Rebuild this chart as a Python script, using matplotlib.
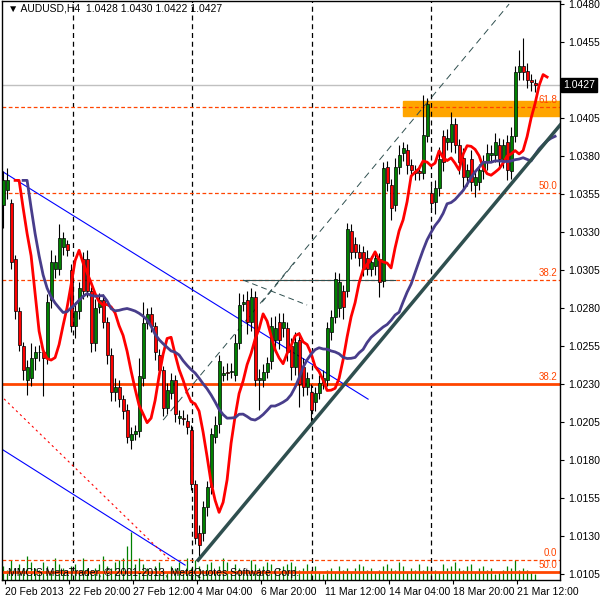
import matplotlib
matplotlib.use("Agg")
import matplotlib.pyplot as plt
import numpy as np
import pandas as pd

plt.rcParams['font.family'] = ['Liberation Sans', 'DejaVu Sans']

# ---- data (prices in pips: 10427 -> 1.0427) ----
opens_p = [10348,10358,10349,10312,10278,10255,10233,10234,10247,10251,
 10251,10247,10285,10306,10306,10320,10322,10305,10268,10278,
 10312,10312,10291,10257,10281,10285,10271,10249,10225,10228,
 10220,10213,10193,10197,10199,10234,10270,10276,10268,10249,
 10239,10214,10224,10233,10208,10208,10206,10200,10164,10132,
 10132,10149,10162,10195,10204,10236,10238,10238,10236,10257,
 10283,10285,10271,10287,10233,10233,10238,10245,10259,10271,
 10267,10267,10255,10241,10259,10241,10228,10225,10218,10224,
 10231,10233,10264,10274,10280,10291,10291,10331,10322,10317,
 10317,10313,10306,10308,10312,10298,10373,10361,10348,10373,
 10382,10384,10374,10370,10370,10369,10393,10356,10350,10359,
 10393,10389,10389,10401,10387,10379,10366,10378,10361,10363,
 10370,10376,10381,10381,10387,10378,10389,10370,10393,10435,
 10439,10436,10430,10428]
closes_p = [10364,10364,10310,10278,10256,10239,10241,10247,10251,10251,
 10247,10284,10310,10310,10326,10326,10318,10268,10278,10293,
 10291,10291,10257,10280,10285,10271,10249,10225,10228,10220,
 10212,10195,10197,10199,10235,10270,10276,10268,10251,10239,
 10214,10226,10233,10210,10209,10207,10202,10164,10129,10124,
 10149,10162,10197,10203,10245,10237,10237,10238,10257,10282,
 10284,10271,10287,10233,10234,10238,10244,10268,10267,10259,
 10271,10251,10241,10258,10230,10228,10234,10213,10224,10231,
 10234,10267,10274,10299,10297,10281,10332,10317,10317,10313,
 10306,10306,10310,10313,10297,10372,10362,10346,10373,10381,
 10385,10374,10371,10369,10369,10394,10414,10349,10359,10378,
 10376,10392,10401,10387,10376,10366,10371,10363,10366,10371,
 10376,10382,10382,10389,10378,10387,10371,10393,10435,10439,
 10435,10430,10429,10427]
upper_wick = [6,8,3,3,3,3,5,10,4,5, 3,5,8,5,9,4,3,4,6,4, 5,6,3,6,5,4,3,5,6,5,
 3,4,5,4,12,14,4,5,3,4, 3,5,4,3,4,5,4,3,3,5, 4,4,4,6,4,5,6,6,6,8,
 5,6,6,4,6,5,4,6,8,6, 6,4,5,6,5,6,4,5,4,5, 5,4,5,5,6,4,4,4,5,5,
 4,5,4,4,4,4,4,4,6,6, 4,4,4,4,4,26,4,4,5,8, 4,6,8,4,4,6,4,6,5,4,
 5,6,5,6,5,4,5,6,4,11, 19,5,4,3]
lower_wick = [15,6,4,5,4,6,10,5,8,6, 25,4,5,6,4,5,4,4,8,5, 5,4,6,5,4,4,6,6,6,5,
 5,4,6,4,4,5,4,4,5,5, 5,4,4,5,4,4,5,4,4,9, 5,6,4,4,6,4,4,4,4,4,
 5,8,6,4,20,5,4,5,8,6, 6,6,8,5,15,6,5,8,6,4, 4,4,5,4,6,8,4,5,4,5,
 5,4,5,6,10,4,5,8,4,5, 5,6,5,5,5,4,4,4,8,5, 6,5,6,5,8,8,6,6,8,5,
 5,5,4,5,6,6,7,5,4,5, 5,5,6,5]
volume = [14,10,20,12,16,12,24,18,12,10, 18,14,10,22,16,12,10,14,16,10,
 22,12,10,12,16,24,14,12,18,20, 22,34,48,16,22,16,12,10,14,18,
 10,8,14,12,18,10,22,12,20,14, 10,16,18,8,14,22,18,10,16,12,
 8,10,20,16,12,14,18,16,10,12, 14,16,18,14,10,12,16,10,14,8,
 6,10,12,8,14,10,12,8,12,16, 14,10,12,8,10,14,16,12,10,18,
 14,8,12,10,16,10,14,12,10,8, 16,12,14,18,12,10,14,16,8,12,
 14,10,12,6,8,10,14,12,20,10, 12,10,8,6]

dates_lbl = ["20 Feb 2013","22 Feb 20:00","27 Feb 12:00","4 Mar 04:00","6 Mar 20:00",
             "11 Mar 12:00","14 Mar 04:00","18 Mar 20:00","21 Mar 12:00"]
date_idx = [0.5,16.5,32.5,48.5,64.5,80.5,96.5,112.5,128.5]
grid_idx = [17.5,47.25,77.25,107]
price_ticks = [1.0480,1.0455,1.0405,1.0380,1.0355,1.0330,1.0305,1.0280,1.0255,
               1.0230,1.0205,1.0180,1.0155,1.0130,1.0105]
fib_dash = [(1.04122,"61.8"),(1.03557,"50.0"),(1.02984,"38.2"),(1.01142,"0.0")]
fib_solid = [(1.0230,"38.2"),(1.01063,"50.0")]
blue_upper = ([-0.75,91.25],[1.03708,1.02201])
blue_lower = ([-0.75,45.5],[1.01879,1.01109])
red_dotted = ([-0.75,41.75],[1.02228,1.01142])
trend_main = ([48.75,139.25],[1.01142,1.04004])
gray_long = ([40,126.5],[1.02063,1.0480])
gray_h = ([60,98],[1.02984,1.02984])
gray_d1 = ([60,76],[1.02984,1.02820])
gray_d2 = ([64.75,73],[1.02839,1.03103])
band = (100,1.04063,1.04162)
current = 1.0427

o = np.array(opens_p)/1e4; c = np.array(closes_p)/1e4
h = np.maximum(o,c)+np.array(upper_wick)/1e4
l = np.minimum(o,c)-np.array(lower_wick)/1e4
n = len(o); idx = np.arange(n)

fig = plt.figure(figsize=(6,6), dpi=100)
ax = fig.add_axes([0.0035, 0.0333, 0.93, 0.965])
XL = (-0.25, 139.25); YL = (1.01011, 1.04820)
ax.set_xlim(*XL); ax.set_ylim(*YL)

# volume
vax = ax.twinx()
vax.set_ylim(0, 579); vax.set_yticks([]); vax.set_xlim(*XL)
vax.vlines(idx, 0, volume, color="#008000", lw=0.9)
for s in vax.spines.values(): s.set_visible(False)
ax.set_zorder(vax.get_zorder()+1); ax.patch.set_visible(False)

for g in grid_idx:
    ax.axvline(g, color="black", lw=0.9, ls=(0,(4,3)))
ax.axhline(current, color="#c0c0c0", lw=1)
ax.add_patch(plt.Rectangle((band[0],band[1]), 200, band[2]-band[1], color="#ffa500", zorder=1))
for p,t in fib_dash:
    ax.axhline(p, color="#ff4500", lw=0.9, ls=(0,(3,2)))
    ax.text(138.5, p+0.00012, t, color="#ff4500", fontsize=7, ha="right", va="bottom")
for p,t in fib_solid:
    ax.axhline(p, color="#ff4500", lw=2)
    ax.text(138.5, p+0.00015, t, color="#ff4500", fontsize=7, ha="right", va="bottom")

ax.plot(*blue_upper, color="#0000ff", lw=0.8)
ax.plot(*blue_lower, color="#0000ff", lw=0.8)
ax.plot(*red_dotted, color="#ff0000", lw=0.8, ls=(0,(2,3)))
ax.plot(*gray_long, color="#2f4f4f", lw=0.7, ls=(0,(7,5)))
ax.plot(*gray_h, color="#2f4f4f", lw=0.8)
ax.plot(*gray_d1, color="#2f4f4f", lw=0.7, ls=(0,(6,4)))
ax.plot(*gray_d2, color="#2f4f4f", lw=0.7, ls=(0,(6,4)))

# candles
ax.vlines(idx, l, h, color="black", lw=0.8, zorder=3)
for i in range(n):
    up = c[i] >= o[i]
    bot = min(o[i],c[i]); ht = max(abs(c[i]-o[i]), 0.00003)
    ax.add_patch(plt.Rectangle((i-0.38, bot), 0.76, ht, facecolor="#008000" if up else "#ff0000",
                               edgecolor="black", lw=0.5, zorder=4))

cs = pd.Series(c)
red_ma = cs.rolling(5, min_periods=1).mean()
pur_ma = cs.rolling(21, min_periods=1).mean()
ax.plot(idx+3, red_ma, color="#ff0000", lw=2, zorder=5)
ax.plot(idx+5, pur_ma, color="#483d8b", lw=2, zorder=5)
ax.plot(*trend_main, color="#2f4f4f", lw=2.5, zorder=6)

# axes styling
ax.set_yticks(price_ticks)
ax.yaxis.tick_right()
ax.set_yticklabels([f"{p:.4f}" for p in price_ticks], fontsize=7.5)
ax.tick_params(axis="y", length=3, pad=3)
ax.set_xticks(date_idx)
ax.set_xticklabels(dates_lbl, fontsize=7.5, ha="left")
ax.tick_params(axis="x", length=3, pad=2)
for s in ax.spines.values(): s.set_linewidth(1)
ax.text(1.005, (current-YL[0])/(YL[1]-YL[0]), f"{current:.4f}", transform=ax.transAxes,
        fontsize=7.5, color="white", va="center", ha="left",
        bbox=dict(boxstyle="square,pad=0.2", fc="black", ec="black"))
ax.text(0.01, 0.995, "▼ AUDUSD,H4  1.0428 1.0430 1.0422 1.0427", transform=ax.transAxes,
        fontsize=7.5, va="top", ha="left")
ax.text(0.01, 0.003, "MMCIS MetaTrader, © 2001-2013, MetaQuotes Software Corp.", transform=ax.transAxes,
        fontsize=7.5, va="bottom", ha="left")
fig.savefig("out.png", dpi=100)
